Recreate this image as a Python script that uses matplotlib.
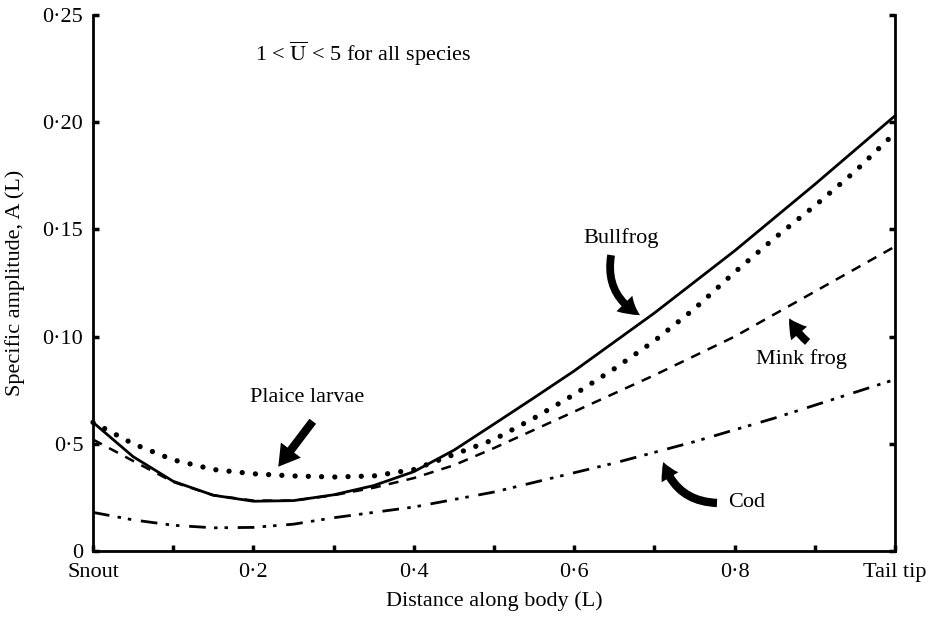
import matplotlib
matplotlib.use("Agg")
import matplotlib.pyplot as plt
from matplotlib.patches import FancyArrowPatch

plt.rcParams['font.family'] = ['Liberation Serif', 'DejaVu Serif']
plt.rcParams['mathtext.fontset'] = 'stix'

# ---- data ----
position = [0.00, 0.05, 0.10, 0.15, 0.20, 0.25, 0.30, 0.35, 0.40, 0.45, 0.50,
            0.55, 0.60, 0.65, 0.70, 0.75, 0.80, 0.85, 0.90, 0.95, 1.00]
bullfrog = [0.060, 0.044, 0.0325, 0.026, 0.0232, 0.0235, 0.0262, 0.0305, 0.037, 0.047, 0.0592,
            0.0715, 0.084, 0.0975, 0.111, 0.1255, 0.140, 0.1555, 0.171, 0.187, 0.203]
plaice_larvae = [0.060, 0.050, 0.0425, 0.038, 0.036, 0.035, 0.0345, 0.035, 0.038, 0.045, 0.052,
                 0.062, 0.073, 0.085, 0.098, 0.113, 0.130, 0.146, 0.161, 0.177, 0.195]
mink_frog = [0.052, 0.042, 0.0322, 0.026, 0.0235, 0.0235, 0.026, 0.0295, 0.034, 0.040, 0.048,
             0.0565, 0.065, 0.0735, 0.082, 0.091, 0.100, 0.1105, 0.121, 0.1315, 0.142]
cod = [0.018, 0.0145, 0.012, 0.0108, 0.011, 0.0125, 0.0155, 0.018, 0.0205, 0.024, 0.0275,
       0.032, 0.0365, 0.041, 0.046, 0.051, 0.0565, 0.062, 0.068, 0.074, 0.080]

x_tick_values = [0.0, 0.2, 0.4, 0.6, 0.8, 1.0]
x_tick_labels = ['Snout', '0·2', '0·4', '0·6', '0·8', 'Tail tip']
x_minor_values = [0.1, 0.3, 0.5, 0.7, 0.9]
y_tick_values = [0.0, 0.05, 0.10, 0.15, 0.20, 0.25]
y_tick_labels = ['0', '0·5', '0·10', '0·15', '0·20', '0·25']

FS = 16

fig = plt.figure(figsize=(9.3, 6.17), dpi=100)
ax = fig.add_axes([0.1, 0.107, 0.8624, 0.8687])

ax.plot(position, cod, color='black', lw=2.0, clip_on=False,
        linestyle=(0, (6, 3, 1.25, 2.5, 1.25, 3.5)), dash_capstyle='butt')
ax.plot(position, mink_frog, color='black', lw=1.8, clip_on=False,
        linestyle=(0, (4, 3.3)), dash_capstyle='butt')
ax.plot(position, bullfrog, color='black', lw=2.0, clip_on=False)
ax.plot(position, plaice_larvae, color='black', lw=3.8, clip_on=False,
        linestyle=(0, (0.01, 2.5)), dash_capstyle='round')

ax.set_xlim(0, 1)
ax.set_ylim(0, 0.25)

for s in ['left', 'right', 'bottom']:
    ax.spines[s].set_linewidth(2.0)
ax.spines['top'].set_visible(False)

ax.set_xticks(x_tick_values)
ax.set_xticklabels(x_tick_labels, fontsize=FS)
ax.set_xticks(x_minor_values, minor=True)
ax.set_yticks(y_tick_values)
ax.set_yticklabels(y_tick_labels, fontsize=FS)
ax.tick_params(axis='both', which='both', direction='in', length=4, width=2.5)
ax.tick_params(axis='y', right=True, labelright=False, pad=7)
ax.tick_params(axis='x', top=False, pad=9)

ax.set_xlabel('Distance along body (L)', fontsize=FS)
ax.set_ylabel('Specific amplitude, A (L)', fontsize=FS)
ax.xaxis.set_label_coords(0.5, -0.076)
ax.yaxis.set_label_coords(-0.085, 0.5)

# ---- annotations ----
ax.text(0.202, 0.232, r'1 < $\overline{\mathrm{U}}$ < 5 for all species', fontsize=FS,
        ha='left', va='center')

ax.text(0.658, 0.146, 'Bullfrog', fontsize=FS, ha='center', va='center')
ax.text(0.267, 0.0715, 'Plaice larvae', fontsize=FS, ha='center', va='center')
ax.text(0.883, 0.0897, 'Mink frog', fontsize=FS, ha='center', va='center')
ax.text(0.815, 0.0224, 'Cod', fontsize=FS, ha='center', va='center')


def arrow(tail, tip, rad, hl, hw, tw, ms=20):
    p = FancyArrowPatch(tail, tip, connectionstyle=f"arc3,rad={rad}",
                        arrowstyle=f"simple,head_length={hl},head_width={hw},tail_width={tw}",
                        mutation_scale=ms, color='black', lw=0, shrinkA=0, shrinkB=0,
                        clip_on=False)
    ax.add_patch(p)


arrow((0.646, 0.138), (0.682, 0.110), 0.35, 0.7, 0.8, 0.28)
arrow((0.274, 0.0605), (0.231, 0.0393), 0.0, 0.75, 0.9, 0.3)
arrow((0.891, 0.0975), (0.868, 0.1085), -0.1, 0.65, 0.75, 0.28)
arrow((0.778, 0.0224), (0.711, 0.0415), -0.35, 0.6, 0.7, 0.3)

fig.savefig('out.png', dpi=100)
